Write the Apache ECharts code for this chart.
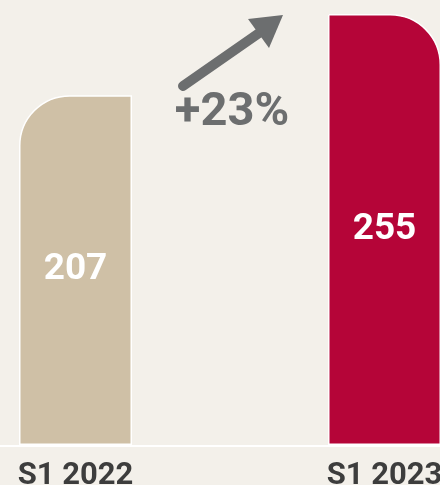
<!DOCTYPE html>
<html>
<head>
<meta charset="utf-8">
<script src="https://cdn.jsdelivr.net/npm/echarts@6/dist/echarts.min.js"></script>
<style>
  html, body { margin: 0; padding: 0; background: #f3f0ea; }
  #main { width: 440px; height: 485px; }
</style>
</head>
<body>
<div id="main"></div>
<script>
var categories = ['S1 2022', 'S1 2023'];
var values = [207, 255];
var barColors = ['#cfc0a6', '#b50538'];
var growthLabel = '+23%';

var chart = echarts.init(document.getElementById('main'), null, {renderer: 'canvas'});

var option = {
    backgroundColor: '#f3f0ea',
    animation: false,
    grid: {left: 75.5, right: 55.5, top: 14, bottom: 40, containLabel: false, outerBoundsMode: 'none'},
    xAxis: {
        type: 'category',
        data: categories,
        boundaryGap: false,
        axisLine: {show: false},
        axisTick: {show: false},
        axisLabel: {
            color: '#3d3d3d',
            fontFamily: 'Roboto',
            fontWeight: 'bold',
            fontSize: 31,
            margin: 16
        }
    },
    yAxis: {
        type: 'value',
        min: 0,
        max: 255,
        show: false,
        splitLine: {show: false}
    },
    series: [{
        type: 'bar',
        barWidth: 113,
        data: values.map(function (v, i) {
            return {
                value: v,
                itemStyle: {
                    color: barColors[i],
                    borderColor: '#ffffff',
                    borderWidth: 1.5,
                    borderRadius: i === 0 ? [50, 0, 0, 0] : [0, 50, 0, 0]
                }
            };
        }),
        label: {
            show: true,
            position: 'inside',
            color: '#ffffff',
            fontFamily: 'Roboto',
            fontWeight: 'bold',
            fontSize: 37
        }
    }]
};
chart.setOption(option);

// baseline across the full width, plus the growth arrow annotation
var baseY = chart.convertToPixel({yAxisIndex: 0}, 0);
chart.setOption({
    graphic: [
        {
            type: 'line',
            shape: {x1: 0, y1: baseY + 1, x2: 440, y2: baseY + 1},
            style: {stroke: '#ffffff', lineWidth: 2}
        },
        {
            type: 'line',
            shape: {x1: 183, y1: 86, x2: 262, y2: 31},
            style: {stroke: '#6c6e6f', lineWidth: 10, lineCap: 'round'}
        },
        {
            type: 'polygon',
            shape: {points: [[283, 15], [248, 19], [269, 48]]},
            style: {fill: '#6c6e6f'}
        },
        {
            type: 'text',
            x: 232,
            y: 113,
            style: {
                text: growthLabel,
                fill: '#6c6e6f',
                font: 'bold 47px Roboto',
                align: 'center',
                verticalAlign: 'middle'
            }
        }
    ]
});
</script>
</body>
</html>
